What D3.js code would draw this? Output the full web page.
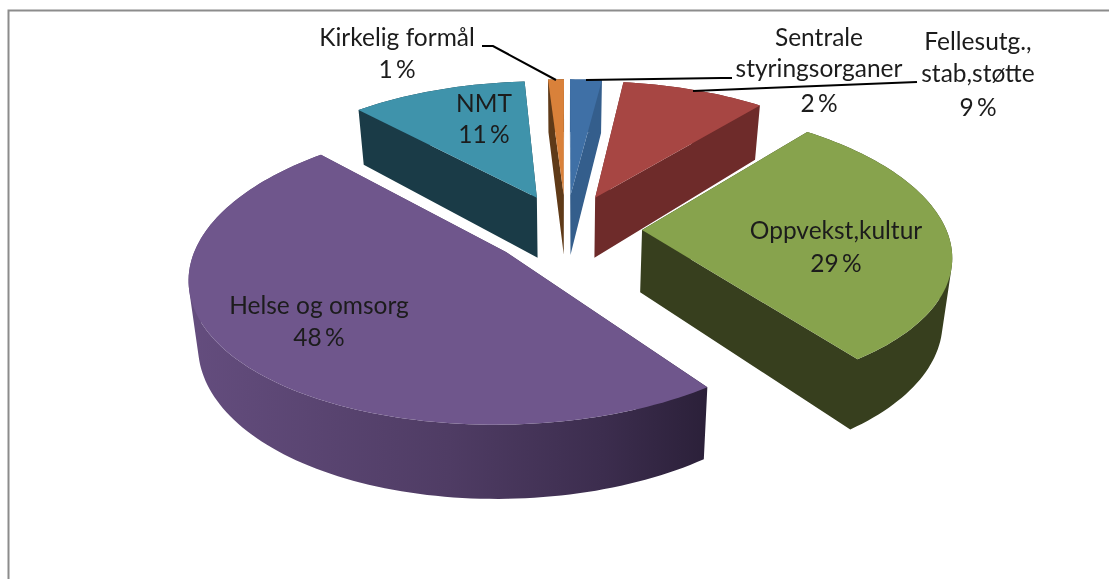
<!DOCTYPE html>
<html>
<head>
<meta charset="utf-8">
<script src="https://cdn.jsdelivr.net/npm/d3@7"></script>
<style>
html,body{margin:0;padding:0;background:#fff;overflow:hidden}
svg{display:block;filter:blur(0.45px)}
text{font-family:Lato,"Open Sans",sans-serif;fill:#1c1c1c}
</style>
</head>
<body>
<script>
// Data, clockwise from 12 o'clock
const categories = ["Sentrale styringsorganer","Fellesutg., stab,støtte","Oppvekst,kultur","Helse og omsorg","NMT","Kirkelig formål"];
const values = [2,9,29,48,11,1];
const topColors = ["#3f70a6","#a74643","#87a34d","#6f568c","#3f93ab","#d9813a"];
const wallColors = ["#345e8c","#6e2b2a","#373f1e","url(#wallGrad)","#1a3b47","#5f3a18"];
const labelLines = [["Sentrale","styringsorganer","2 %"],["Fellesutg.,","stab,støtte","9 %"],["Oppvekst,kultur","29 %"],["Helse og omsorg","48 %"],["NMT","11 %"],["Kirkelig formål","1 %"]];

const W = 1109, H = 579;
const svg = d3.select("body").append("svg").attr("width",W).attr("height",H);

// frame
svg.append("path").attr("d",`M8.5,${H} V10.5 H${W}`).attr("fill","none").attr("stroke","#8c8c8c").attr("stroke-width",2);

const defs = svg.append("defs");
const g = defs.append("linearGradient").attr("id","wallGrad").attr("gradientUnits","userSpaceOnUse")
  .attr("x1",190).attr("x2",707).attr("y1",0).attr("y2",0);
[[0,"#644d7e"],[0.5,"#4f3c64"],[0.8,"#3c2d4e"],[1,"#2b2039"]].forEach(([o,c])=>g.append("stop").attr("offset",o).attr("stop-color",c));

// 3D perspective projection of the pie plane
const cam = {cx:566, cy:229, A:304, B:141, k:0.142, kx:0.155, T:62, e:0.25, lean:0.025};
const project = (X,Y,z) => {
  const w = 1 + cam.k*Y;
  const wx = 1 + cam.kx*Y;
  return [cam.cx + cam.A*X/wx*(1-cam.lean*z), cam.cy + (-cam.B*Y + z*cam.T)/w];
};
const line = d3.line();
// all wall pieces wound the same way, so one path fills them without seams
const wound = pts => d3.polygonArea(pts) < 0 ? pts.slice().reverse() : pts;

const pie = d3.pie().sort(null).value(d=>d);
const arcs = pie(values).map((a,i)=>{
  const mid = (a.startAngle+a.endAngle)/2;
  const ox = cam.e*Math.sin(mid), oy = cam.e*Math.cos(mid);
  const n = Math.max(4,Math.ceil((a.endAngle-a.startAngle)*40));
  const angs = d3.range(n+1).map(j=>a.startAngle+(a.endAngle-a.startAngle)*j/n);
  const rim = z => angs.map(t=>project(ox+Math.sin(t),oy+Math.cos(t),z));
  const apex = z => project(ox,oy,z);
  return {i,ox,oy,rim,apex};
});

// far slices first
const order = [5,0,4,1,2,3];
const layer = svg.append("g");
order.forEach(i=>{
  const s = arcs[i], gg = layer.append("g");
  const top = s.rim(0), bot = s.rim(1), a0 = s.apex(0), a1 = s.apex(1);
  const pieces = [
    [a0,top[0],bot[0],a1],
    [a0,top[top.length-1],bot[bot.length-1],a1],
    ...d3.range(top.length-1).map(j=>[top[j],top[j+1],bot[j+1],bot[j]])
  ];
  gg.append("path").attr("d",pieces.map(p=>line(wound(p))+"Z").join("")).attr("fill",wallColors[i]);
  gg.append("path").attr("d",line([a0,...top])+"Z").attr("fill",topColors[i]);
});

// leader lines
const leaders = [
  [[482,46],[493,46],[556,80]],
  [[732,78],[721,78],[586,80]],
  [[917,82],[693,91]]
];
svg.append("g").selectAll("path").data(leaders).join("path")
  .attr("d",d=>line(d)).attr("fill","none").attr("stroke","#000").attr("stroke-width",2);

// labels
const labelPos = [
  {x:819,y:[46,77,112]},
  {x:978,y:[50,82,116]},
  {x:836,y:[239,272]},
  {x:319,y:[314,346]},
  {x:484,y:[112,143]},
  {x:397,y:[46,78]}
];
const fontSize = 24.5;
labelLines.forEach((ls,i)=>{
  ls.forEach((t,j)=>{
    svg.append("text").attr("x",labelPos[i].x).attr("y",labelPos[i].y[j])
      .attr("text-anchor","middle").attr("font-size",fontSize)
      .attr("word-spacing",j===ls.length-1?-3:0).text(t);
  });
});
</script>
</body>
</html>
